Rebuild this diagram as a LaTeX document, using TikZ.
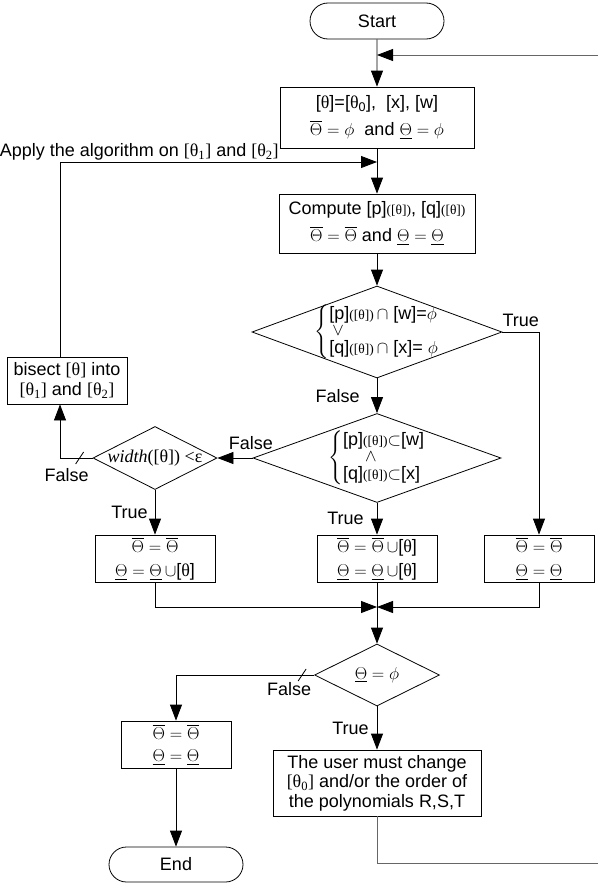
\documentclass[tikz,border=0pt]{standalone}
\usepackage{amsmath,amssymb}
\usepackage{fontspec}
\setmainfont{Liberation Sans}
\newfontfamily\grk{Liberation Serif}
\usetikzlibrary{shapes.geometric,shapes.misc,arrows.meta}

\newcommand{\tht}{{\grk θ}}
\newcommand{\ofth}{{\grk\fontsize{13.5}{14}\selectfont([θ])}}
\newcommand{\ThUp}{\overline{\Theta}}
\newcommand{\ThLo}{\underline{\Theta}}
\newcommand{\bigop}[1]{\raisebox{1pt}{\fontsize{18}{18}\selectfont$#1$}}

\begin{document}
\begin{tikzpicture}[->,>={Triangle[length=16pt,width=12pt]},x=1pt,y=-1pt,line width=0.8pt,
  font=\fontsize{18}{20}\selectfont,
  terminal/.style={draw,rounded rectangle,minimum width=134pt,minimum height=36pt,inner sep=0pt},
  process/.style={draw,rectangle,align=center,inner sep=0pt},
  decision/.style={draw,diamond,inner sep=0pt},
  cond/.style={align=left,inner sep=0pt},
  lbl/.style={inner sep=3pt},
  back/.style={draw=black!60,-{Triangle[length=16pt,width=12pt,color=black]}}]
  \useasboundingbox (0,0) rectangle (598,886);

  \node[terminal] (start) at (377,21) {Start};
  \node[process,minimum width=194pt,minimum height=61pt] (init) at (377,117.5)
    {[\tht]=[\tht\textsubscript{0}],\ \ [x], [w]\\[7pt] $\ThUp=\phi$\ \ and $\ThLo=\phi$};
  \node[process,minimum width=196pt,minimum height=59pt] (compute) at (377,223.5)
    {Compute [p]\ofth, [q]\ofth\\[7pt] $\ThUp=\ThUp$ and $\ThLo=\ThLo$};
  \node[decision,minimum width=250pt,minimum height=92pt,
    label={[cond]center:{$\left\{\begin{tabular}{@{}l@{}}[p]\ofth$\,\cap$ [w]=$\phi$\\[-3pt]
      \hspace{3pt}\bigop{\vee}\\[-3pt] [q]\ofth$\,\cap$ [x]= $\phi$\end{tabular}\right.$}}] (test1) at (377,332) {};
  \node[decision,minimum width=248pt,minimum height=89pt,
    label={[cond]center:{$\left\{\begin{tabular}{@{}l@{}}[p]\ofth$\subset$[w]\\[-3pt]
      \hspace{22pt}\bigop{\wedge}\\[-3pt] [q]\ofth$\subset$[x]\end{tabular}\right.$}}] (test2) at (377,458) {};
  \node[decision,minimum width=124pt,minimum height=63pt,
    label={[cond]center:{\grk\fontsize{18}{20}\selectfont\itshape width\upshape([θ]) <ε}}] (small) at (155,458) {};
  \node[process,minimum width=120pt,minimum height=47pt] (bisect) at (67,380.5)
    {bisect {\grk[θ]} into\\ {\grk[θ\textsubscript{1}]} and {\grk[θ\textsubscript{2}]}};
  \node[process,minimum width=120pt,minimum height=47pt] (lowbox) at (155,558.5)
    {$\ThUp=\ThUp$\\[4pt] $\ThLo=\ThLo\,\cup$[\tht]};
  \node[process,minimum width=120pt,minimum height=47pt] (bothbox) at (377,558.5)
    {$\ThUp=\ThUp\,\cup$[\tht]\\[4pt] $\ThLo=\ThLo\,\cup$[\tht]};
  \node[process,minimum width=110pt,minimum height=47pt] (samebox) at (539,558.5)
    {$\ThUp=\ThUp$\\[4pt] $\ThLo=\ThLo$};
  \coordinate (merge) at (377,607);
  \node[decision,minimum width=125pt,minimum height=62pt] (empty) at (377,675) {$\ThLo=\phi$};
  \node[process,minimum width=110pt,minimum height=47pt] (keep) at (176,744.5)
    {$\ThUp=\ThUp$\\[2pt] $\ThLo=\ThLo$};
  \node[process,minimum width=208pt,minimum height=66pt,font=\fontsize{18}{19.5}\selectfont] (user) at (377,783)
    {The user must change\\ {\grk[θ\textsubscript{0}]} and/or the order of\\ the polynomials R,S,T};
  \node[terminal,minimum height=35pt] (stop) at (176,864.5) {End};

  \coordinate (entry) at (377,162);
  \coordinate (back) at (377,55);
  \coordinate (rt) at (598,55);
  \coordinate (rb) at (598,863);

  \path
    (start) edge (init)
    (init) edge (compute)
    (compute) edge (test1)
    (test1) edge node[left=14pt,lbl] {False} (test2)
    (test2) edge node[above=5pt,lbl,pos=.05] {False} (small)
            edge node[left=10pt,lbl] {True} (bothbox)
    (small) edge node[left=4pt,lbl] {True} (lowbox)
    (empty) edge node[left=5pt,lbl] {True} (user)
    (keep) edge (stop);

  \draw (test1.east) -| node[pos=.25,above=2pt,lbl] {True} (samebox.north);
  \draw (small.west) -| node[pos=.4,below=7pt,lbl] {False} ([xshift=-7pt]bisect.south);
  \draw ([xshift=-7pt]bisect.north) |- node[pos=.625,above,inner sep=1pt]
    {Apply the algorithm on {\grk[θ\textsubscript{1}]} and {\grk[θ\textsubscript{2}]}} (entry);
  \draw (lowbox) |- (merge);
  \draw (samebox) |- (merge);
  \draw[-] (bothbox) -- (merge);
  \draw (merge) -- (empty);
  \draw (empty.west) -| node[pos=.09,below=4pt,lbl] {False} (keep.north);
  \draw[back,-] (user) |- (rb);
  \draw[back] (rt) -- (back);

  % tick marks on the False lines
  \draw[-] ([xshift=-13pt]small.west) ++(-4,6) -- ++(8,-12);
  \draw[-] ([xshift=-12pt]empty.west) ++(-4,6) -- ++(8,-12);
\end{tikzpicture}
\end{document}
